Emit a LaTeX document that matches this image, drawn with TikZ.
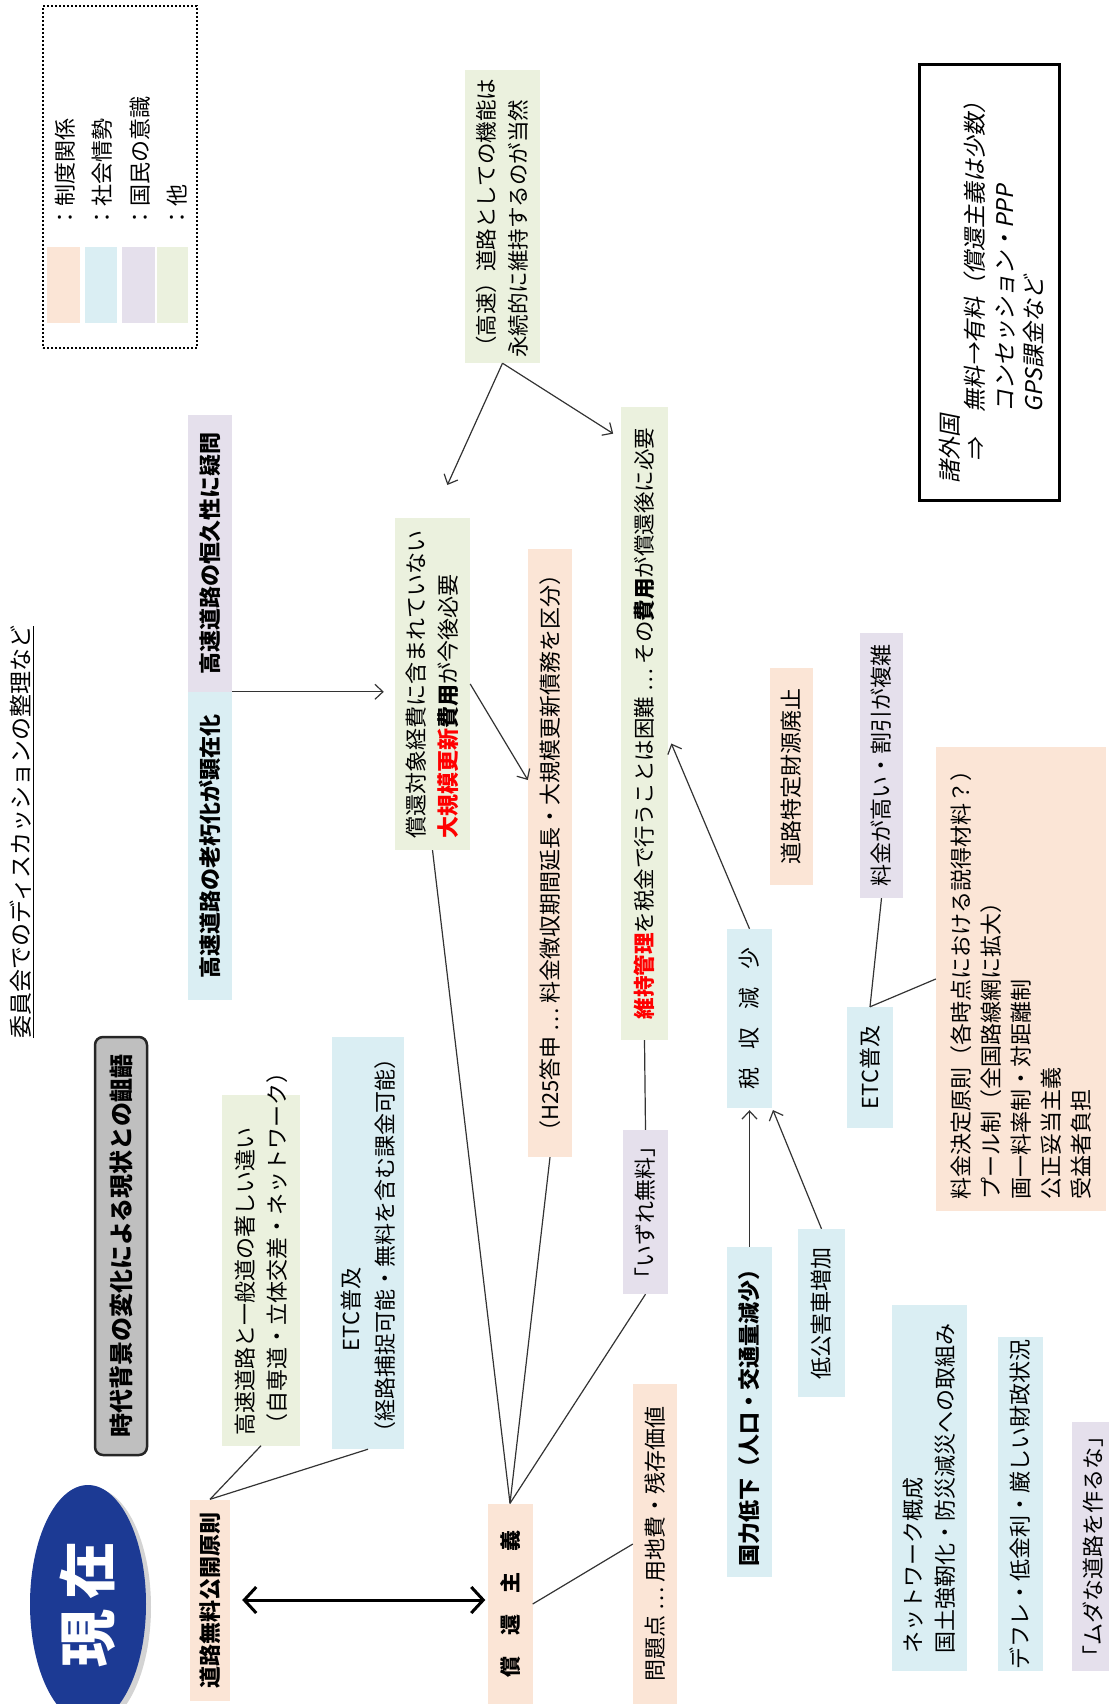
\documentclass[tikz,border=0pt]{standalone}
\usepackage{fontspec}
\setmainfont{Noto Sans CJK JP}
\newfontfamily\slfont{Noto Sans CJK JP}[FakeSlant=0.2]
\usetikzlibrary{arrows.meta,shapes.geometric,calc,shadows}
\definecolor{cpeach}{HTML}{FBE5D6}
\definecolor{cblue}{HTML}{DAEEF3}
\definecolor{clav}{HTML}{E5E0EC}
\definecolor{cgreen}{HTML}{EBF1DE}
\definecolor{cnavy}{HTML}{1C3A94}
\definecolor{cgray}{HTML}{BFBFBF}
\newcommand\fsz{\fontsize{22}{31}\selectfont}
\begin{document}
\begin{tikzpicture}[x=1pt,y=-1pt,
  bx/.style={rotate=90, inner sep=0pt, font=\fsz, align=center},
  lbl/.style={rotate=90, anchor=west, inner sep=0pt, font=\fontsize{22}{28}\selectfont},
  ln/.style={line width=1.2pt, draw=black!80},
  arr/.style={ln, -{Straight Barb[length=8pt,width=15pt]}},
  dbl/.style={line width=3pt, {Straight Barb[length=12pt,width=26pt]}-{Straight Barb[length=12pt,width=26pt]}}]
\useasboundingbox (0,0) rectangle (1108,1704);

% legend
\node[draw, line width=1.5pt, dash pattern=on 2pt off 2pt, minimum width=154pt, minimum height=342pt, inner sep=0pt] (legend) at (120,177) {};
\node[fill=cpeach, minimum width=33pt, minimum height=76pt, inner sep=0pt] (s1) at (63.5,285) {};
\node[fill=cblue, minimum width=32pt, minimum height=76pt, inner sep=0pt] (s2) at (101,285) {};
\node[fill=clav, minimum width=33pt, minimum height=76pt, inner sep=0pt] (s3) at (138.5,285) {};
\node[fill=cgreen, minimum width=31pt, minimum height=76pt, inner sep=0pt] (s4) at (172.5,285) {};
\node[lbl] (l1) at (65,229) {：制度関係};
\node[lbl] (l2) at (102,229) {：社会情勢};
\node[lbl] (l3) at (140,229) {：国民の意識};
\node[lbl] (l4) at (177,229) {：他};

% title
\node[rotate=90, inner sep=0pt, font=\fontsize{23}{28}\selectfont] (title) at (22,832) {\underline{委員会でのディスカッションの整理など}};

% left column
\node[bx, fill=clav, minimum width=277pt, minimum height=44pt, font=\fsz\bfseries] (gimon) at (210,553.5) {高速道路の恒久性に疑問};
\node[bx, fill=cblue, minimum width=308pt, minimum height=44pt, font=\fsz\bfseries] (rokyu) at (210,846) {高速道路の老朽化が顕在化};
\node[bx, draw=black!85, line width=2.5pt, fill=cgray, rounded corners=8pt, minimum width=418pt, minimum height=52pt, font=\fontsize{24}{30}\selectfont\bfseries] (jidai) at (121,1246) {時代背景の変化による現状との齟齬};
\node[ellipse, rotate=90, fill=cnavy, draw=none, minimum width=238pt, minimum height=116pt, inner sep=0pt, text=white, font=\fontsize{58}{60}\selectfont\bfseries, drop shadow={opacity=0.35, shadow xshift=5pt, shadow yshift=-3pt}] (genzai) at (88,1604) {現\hspace{10pt}在};
\node[bx, fill=cpeach, minimum width=201pt, minimum height=40pt, font=\fsz\bfseries] (muryo) at (210,1600) {道路無料公開原則};
\node[bx, fill=cgreen, minimum width=351pt, minimum height=78pt, text width=330pt, align=left, font=\fontsize{22}{32}\selectfont] (kosoku) at (261,1270) {高速道路と一般道の著しい違い\\（自専道・立体交差・ネットワーク）};
\node[bx, fill=cblue, minimum width=412pt, minimum height=72pt, text width=400pt, align=left, font=\fontsize{22}{34}\selectfont] (etc1) at (368,1243) {\hspace*{92pt}ETC普及\\（経路捕捉可能・無料を含む課金可能）};

% middle
\node[bx, fill=cgreen, minimum width=332pt, minimum height=75pt, text width=308pt, align=left, font=\fontsize{22}{32}\selectfont] (taisho) at (432.5,684) {償還対象経費に含まれていない\\{\color{red}\bfseries 大規模更新}{\bfseries 費用}が今後必要};
\node[bx, fill=cgreen, minimum width=293pt, minimum height=75pt, text width=282pt, align=left, font=\fontsize{21.5}{32}\selectfont] (eizoku) at (502.5,216.5) {（高速）道路としての機能は\\永続的に維持するのが当然};
\node[bx, fill=cpeach, minimum width=201pt, minimum height=45pt, font=\fontsize{21}{28}\selectfont\bfseries] (shokan) at (510,1604) {償\hspace{21pt}還\hspace{21pt}主\hspace{21pt}義};
\node[bx, fill=cpeach, minimum width=608pt, minimum height=44pt] (h25) at (550,853) {（H25答申 … 料金徴収期間延長・大規模更新債務を区分）};
\node[bx, fill=cgreen, minimum width=633pt, minimum height=47pt, font=\fontsize{21.5}{28}\selectfont] (iji) at (644.5,723.5) {{\color{red}\bfseries 維持管理}を税金で行うことは困難 … その{\bfseries 費用}が償還後に必要};
\node[bx, fill=clav, minimum width=164pt, minimum height=45pt] (izure) at (645.5,1212) {「いずれ無料」};
\node[bx, fill=cpeach, minimum width=320pt, minimum height=44pt] (mondai) at (655,1544) {問題点 … 用地費・残存価値};

% right-middle
\node[bx, fill=cblue, minimum width=179pt, minimum height=45pt] (zeishu) at (749.5,1018.5) {税\hspace{18pt}収\hspace{18pt}減\hspace{18pt}少};
\node[bx, fill=cblue, minimum width=330pt, minimum height=45pt, font=\fsz\bfseries] (kokuryoku) at (749.5,1412) {国力低下（人口・交通量減少）};
\node[bx, fill=cblue, minimum width=168pt, minimum height=47pt] (teikogai) at (821.5,1313) {低公害車増加};
\node[bx, fill=cpeach, minimum width=217pt, minimum height=43pt] (tokutei) at (791.5,776.5) {道路特定財源廃止};
\node[bx, fill=clav, minimum width=265pt, minimum height=43pt] (takai) at (881.5,765.5) {料金が高い・割引が複雑};
\node[bx, fill=cblue, minimum width=121pt, minimum height=46pt] (etc2) at (870,1067.5) {ETC普及};
\node[bx, fill=cpeach, minimum width=464pt, minimum height=170pt, text width=440pt, align=left, font=\fontsize{22}{30}\selectfont] (kettei) at (1021,979) {料金決定原則（各時点における説得材料？）\\プール制（全国路線網に拡大）\\画一料率制・対距離制\\公正妥当主義\\受益者負担};
\node[bx, fill=cblue, minimum width=366pt, minimum height=75pt, text width=330pt, align=left, font=\fontsize{22}{32}\selectfont] (network) at (929.5,1488) {ネットワーク概成\\国土強靭化・防災減災への取組み};
\node[bx, fill=cblue, minimum width=334pt, minimum height=45pt] (deflation) at (1020.5,1504) {デフレ・低金利・厳しい財政状況};
\node[bx, fill=clav, minimum width=249pt, minimum height=42pt] (muda) at (1093,1546.5) {「ムダな道路を作るな」};

% foreign countries box
\node[draw=black, line width=3pt, minimum width=140pt, minimum height=435pt, inner sep=0pt] (gaikoku) at (989,282.5) {};
\node[lbl, font=\fontsize{23}{28}\selectfont\slfont] (g1) at (950,484) {諸外国};
\node[rotate=90, inner sep=0pt, font=\fontsize{23}{28}\selectfont\slfont] (g2) at (976,450) {⇒};
\node[lbl, align=left, font=\fontsize{23}{29.5}\selectfont\slfont] (g3) at (1004.5,413) {無料→有料（償還主義は少数）\\コンセッション・PPP\\GPS課金など};

% connectors
\draw[ln] (muryo.east) -- (kosoku.west);
\draw[ln] (muryo.east) -- (etc1.west);
\draw[dbl, shorten <=12pt, shorten >=2pt] (muryo.south) -- (muryo.south -| shokan.north);
\draw[ln] (shokan.east) -- (taisho.west);
\draw[ln] (shokan.east) -- (h25.west);
\draw[ln] (shokan.east) -- (izure.west);
\draw[ln] (shokan.south) -- (mondai.north);
\draw[arr, shorten >=11pt] (rokyu.south east) -- (rokyu.south east -| taisho.north);
\draw[arr] (taisho.south) -- ($(h25.north east)!0.38!(h25.north west)$);
\draw[arr, shorten >=36pt] (eizoku.west) -- (taisho.east);
\draw[arr, shorten >=9pt] (eizoku.west) -- ($(iji.north east)!0.05!(iji.north west)$);
\draw[arr, shorten >=8pt] (zeishu.east) -- ($(iji.south east)!0.52!(iji.south west)$);
\draw[ln] (izure.east) -- (iji.west);
\draw[arr, shorten >=2pt] (kokuryoku.east) -- (zeishu.west);
\draw[arr, shorten >=2pt] (teikogai.east) -- (zeishu.south west);
\draw[ln] (etc2.east) -- (takai.west);
\draw[ln] (etc2.east) -- (kettei.north);
\end{tikzpicture}
\end{document}
